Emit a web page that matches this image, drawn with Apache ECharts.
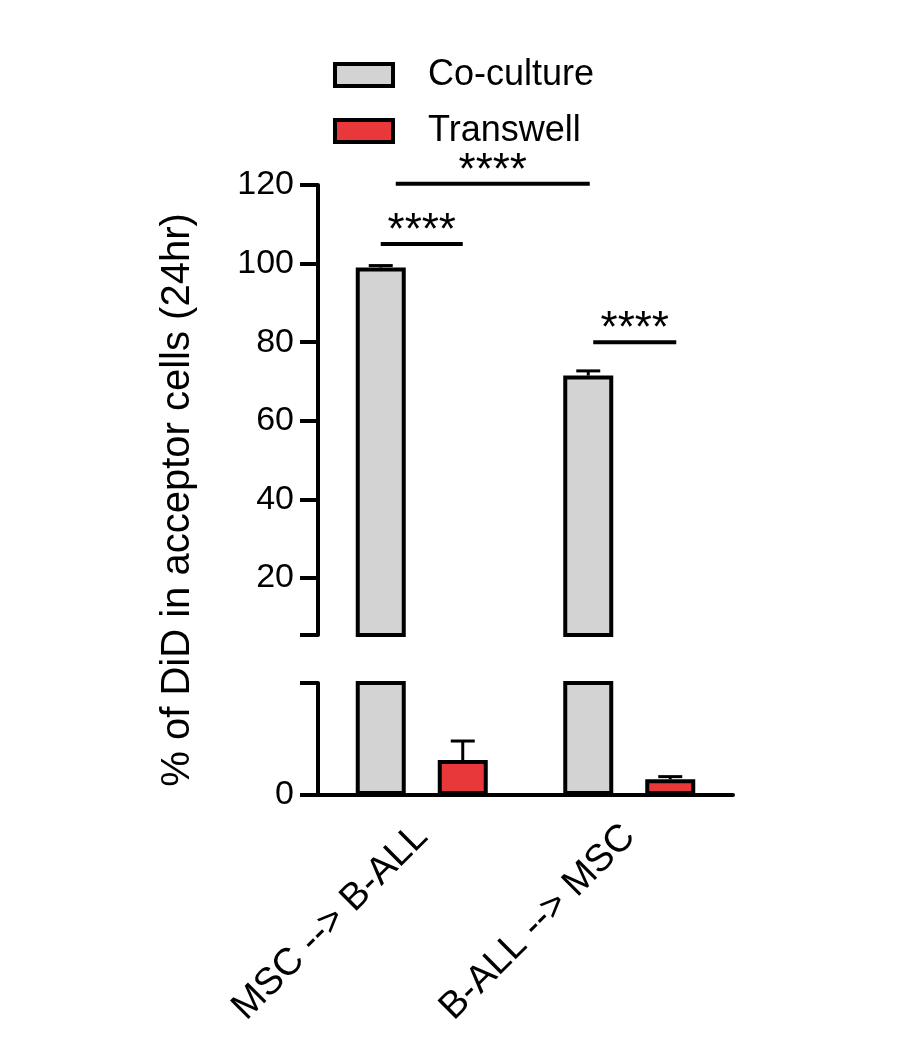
<!DOCTYPE html><html><head><meta charset="utf-8">
<script src="https://cdn.jsdelivr.net/npm/echarts@6/dist/echarts.min.js"></script>
<style>html,body{margin:0;background:#fff}#c{width:923px;height:1055px}</style></head><body><div id="c"></div>
<script>
const categories=['MSC --> B-ALL','B-ALL --> MSC'];
const coculture=[99,71.5];
const cocultureErr=[0.5,1.2];
const transwell=[1.56,0.7];
const transwellErr=[0.85,0.12];
const upperTicks=[20,40,60,80,100,120];
const sig=[{cat:0,from:-41,to:41,y:105},{cat:0,from:-26,to:168,y:120.3},{cat:1,from:-36,to:47,y:80}];
const F='Liberation Sans, Arial, sans-serif';
const c=echarts.init(document.getElementById('c'));
const L=318,R=190;
function errItem(off){return function(p,api){const x=api.coord([api.value(0),0])[0]+off;const y0=api.coord([api.value(0),api.value(1)])[1];const y1=api.coord([api.value(0),api.value(1)+api.value(2)])[1];
return{type:'group',children:[{type:'line',shape:{x1:x,y1:y0,x2:x,y2:y1},style:{stroke:'#000',lineWidth:3}},{type:'line',shape:{x1:x-12,y1:y1,x2:x+12,y2:y1},style:{stroke:'#000',lineWidth:3}}]};};}
const yStyle={axisLine:{show:true,onZero:false,lineStyle:{color:'#000',width:4}},splitLine:{show:false},axisTick:{show:true,length:18,lineStyle:{color:'#000',width:4}},axisLabel:{color:'#000',fontSize:34,fontFamily:F,margin:24}};
c.setOption({animation:false,
legend:{orient:'vertical',left:328,top:52,icon:'rect',itemWidth:58,itemHeight:22,itemGap:20,itemStyle:{borderColor:'#000',borderWidth:4},textStyle:{fontSize:36,fontFamily:F,color:'#000',padding:[0,0,0,30]},data:['Co-culture','Transwell']},
graphic:[{type:'text',x:178,y:500,rotation:Math.PI/2,style:{text:'% of DiD in acceptor cells (24hr)',fontSize:40,fontFamily:F,fill:'#000',textAlign:'center',textVerticalAlign:'middle'}}],
grid:[{left:L,right:R,top:185,height:450},{left:L,right:R,top:683,height:112}],
xAxis:[{type:'category',gridIndex:0,data:categories,show:false},
{type:'category',gridIndex:1,data:categories,axisLine:{lineStyle:{color:'#000',width:4}},axisTick:{alignWithLabel:true,length:18,lineStyle:{color:'#000',width:4}},axisLabel:{rotate:45,fontSize:38,fontFamily:F,color:'#000',margin:36}}],
yAxis:[Object.assign({type:'value',gridIndex:0,min:5.5,max:120},yStyle,{axisTick:Object.assign({},yStyle.axisTick,{customValues:[5.5].concat(upperTicks)}),axisLabel:Object.assign({},yStyle.axisLabel,{customValues:upperTicks})}),
Object.assign({type:'value',gridIndex:1,min:0,max:5},yStyle,{axisTick:Object.assign({},yStyle.axisTick,{customValues:[0,5]}),axisLabel:Object.assign({},yStyle.axisLabel,{customValues:[0]})})],
series:[
{name:'Co-culture',type:'bar',xAxisIndex:0,yAxisIndex:0,data:coculture,barWidth:50,barGap:'64%',itemStyle:{color:'#d3d3d3',borderColor:'#000',borderWidth:4}},
{name:'Transwell',type:'bar',xAxisIndex:0,yAxisIndex:0,data:['-','-'],barWidth:50,itemStyle:{color:'#e8383a',borderColor:'#000',borderWidth:4}},
{name:'Co-culture',type:'bar',xAxisIndex:1,yAxisIndex:1,data:coculture,barWidth:50,barGap:'64%',itemStyle:{color:'#d3d3d3',borderColor:'#000',borderWidth:4}},
{name:'Transwell',type:'bar',xAxisIndex:1,yAxisIndex:1,data:transwell,barWidth:50,itemStyle:{color:'#e8383a',borderColor:'#000',borderWidth:4}},
{type:'custom',xAxisIndex:0,yAxisIndex:0,data:coculture.map((v,i)=>[i,v,cocultureErr[i]]),renderItem:errItem(-41),z:5},
{type:'custom',xAxisIndex:1,yAxisIndex:1,data:transwell.map((v,i)=>[i,v,transwellErr[i]]),renderItem:errItem(41),z:1},
{type:'custom',xAxisIndex:0,yAxisIndex:0,clip:false,data:sig.map(s=>[s.cat,s.y,s.from,s.to]),renderItem:function(p,api){const x=api.coord([api.value(0),0])[0];const y=api.coord([api.value(0),api.value(1)])[1];const a=x+api.value(2),b=x+api.value(3);
return{type:'group',children:[{type:'line',shape:{x1:a,y1:y,x2:b,y2:y},style:{stroke:'#000',lineWidth:4}},{type:'text',x:(a+b)/2,y:y+10,style:{text:'****',fontSize:44,fontFamily:F,fill:'#000',textAlign:'center',textVerticalAlign:'bottom'}}]};}}
]});
</script></body></html>
